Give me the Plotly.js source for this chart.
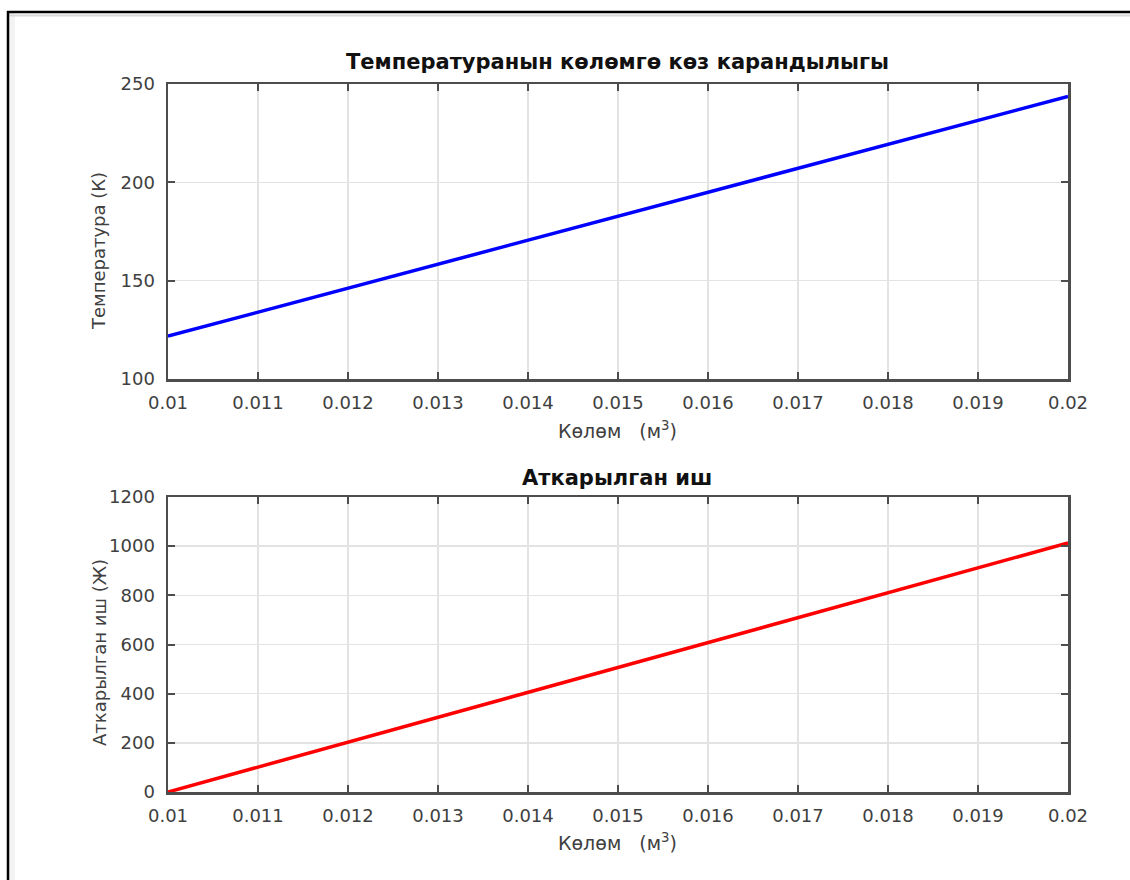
<!DOCTYPE html>
<html>
<head>
<meta charset="utf-8">
<script src="https://cdn.plot.ly/plotly-3.0.1.min.js"></script>
<style>
html,body{margin:0;padding:0;background:#fff;}
#chart{width:1130px;height:880px;}
</style>
</head>
<body>
<div id="chart"></div>
<script>
// Data
const volume = [0.010, 0.011, 0.012, 0.013, 0.014, 0.015, 0.016, 0.017, 0.018, 0.019, 0.020];
const temperature = [121.8, 134.0, 146.2, 158.4, 170.6, 182.8, 195.0, 207.2, 219.3, 231.5, 243.7];
const work = [0, 101, 203, 304, 405, 507, 608, 709, 810, 912, 1013];
const xTickVals = [0.010, 0.011, 0.012, 0.013, 0.014, 0.015, 0.016, 0.017, 0.018, 0.019, 0.020];
const xTickText = ["0.01", "0.011", "0.012", "0.013", "0.014", "0.015", "0.016", "0.017", "0.018", "0.019", "0.02"];
const tempTicks = [100, 150, 200, 250];
const workTicks = [0, 200, 400, 600, 800, 1000, 1200];

const title1 = "Температуранын көлөмгө көз карандылыгы";
const title2 = "Аткарылган иш";
const xTitle = "Көлөм &nbsp;&nbsp;(м<sup>3</sup>)";
const yTitle1 = "Температура (К)";
const yTitle2 = "Аткарылган иш (Ж)";

const W = 1130, H = 880;
const px = v => v / W;
const py = v => 1 - v / H;

const FONT = "DejaVu Sans, Liberation Sans, Arial, sans-serif";
const tickColor = "#404040";

function xAxis(anchor) {
  return {
    domain: [px(168), px(1068)],
    anchor: anchor,
    range: [0.01, 0.02],
    tickmode: "array",
    tickvals: xTickVals,
    ticktext: xTickText,
    ticks: "inside",
    ticklen: 7,
    tickwidth: 2,
    tickcolor: "#4d4d4d",
    showline: true,
    linecolor: "#4d4d4d",
    linewidth: 2.5,
    mirror: "ticks",
    showgrid: true,
    gridcolor: "#e3e3e3",
    gridwidth: 1.5,
    zeroline: false,
    tickfont: {family: FONT, size: 18, color: tickColor},
    ticklabelstandoff: 6
  };
}
function yAxis(anchor, dom, range, ticks) {
  return {
    domain: dom,
    anchor: anchor,
    range: range,
    tickmode: "array",
    tickvals: ticks,
    ticks: "inside",
    ticklen: 7,
    tickwidth: 2,
    tickcolor: "#4d4d4d",
    showline: true,
    linecolor: "#4d4d4d",
    linewidth: 2.5,
    mirror: "ticks",
    showgrid: true,
    gridcolor: "#e3e3e3",
    gridwidth: 1.5,
    zeroline: false,
    tickfont: {family: FONT, size: 18, color: tickColor},
    ticklabelstandoff: 7
  };
}

const traces = [
  {x: volume, y: temperature, xaxis: "x", yaxis: "y", mode: "lines",
   line: {color: "#0000ff", width: 3.5}, hoverinfo: "skip"},
  {x: volume, y: work, xaxis: "x2", yaxis: "y2", mode: "lines",
   line: {color: "#ff0000", width: 3.5}, hoverinfo: "skip"}
];

const ann = (text, x, y, size, bold, color, angle) => ({
  text: bold ? "<b>" + text + "</b>" : text,
  xref: "paper", yref: "paper", x: px(x), y: py(y),
  xanchor: "center", yanchor: "middle", showarrow: false,
  textangle: angle || 0,
  font: {family: FONT, size: size, color: color}
});

const layout = {
  width: W, height: H,
  margin: {l: 0, r: 0, t: 0, b: 0},
  paper_bgcolor: "#ffffff",
  plot_bgcolor: "#ffffff",
  showlegend: false,
  xaxis: xAxis("y"),
  yaxis: yAxis("x", [py(379), py(84)], [100, 250], tempTicks),
  xaxis2: xAxis("y2"),
  yaxis2: yAxis("x2", [py(792), py(497)], [0, 1200], workTicks),
  annotations: [
    ann(title1, 617, 62, 21, true, "#111111"),
    ann(title2, 617, 478, 21, true, "#111111"),
    ann(xTitle, 617, 430, 19, false, tickColor),
    ann(xTitle, 617, 842, 19, false, tickColor),
    ann(yTitle1, 99, 251, 18, false, tickColor, -90),
    ann(yTitle2, 99, 653, 18, false, tickColor, -90)
  ],
  shapes: [
    {type: "rect", xref: "paper", yref: "paper", x0: px(9), x1: px(15), y0: 0, y1: py(13),
     fillcolor: "#f3f3f3", line: {width: 0}, layer: "below"},
    {type: "line", xref: "paper", yref: "paper", x0: px(9), x1: 1, y0: py(15.5), y1: py(15.5),
     line: {color: "#d9d9d9", width: 2}},
    {type: "line", xref: "paper", yref: "paper", x0: px(7), x1: 1, y0: py(12), y1: py(12),
     line: {color: "#000000", width: 2.5}},
    {type: "line", xref: "paper", yref: "paper", x0: px(8), x1: px(8), y0: 0, y1: py(11),
     line: {color: "#000000", width: 2.5}}
  ]
};

Plotly.newPlot("chart", traces, layout, {staticPlot: true, displayModeBar: false});
</script>
</body>
</html>
